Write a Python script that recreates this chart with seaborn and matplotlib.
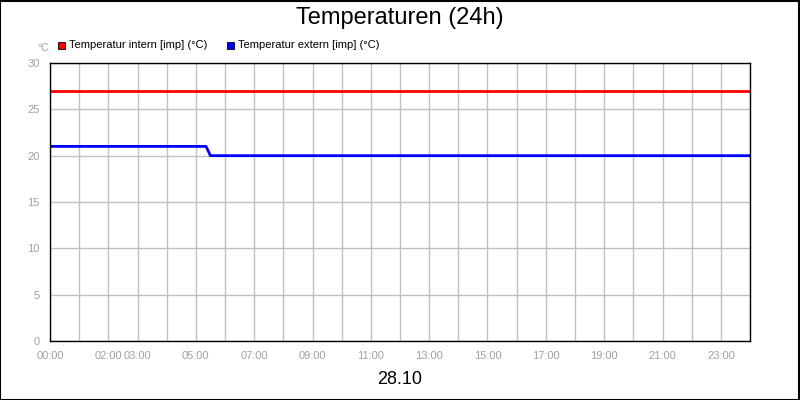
import matplotlib
matplotlib.use("Agg")
import matplotlib.pyplot as plt
import seaborn as sns
import pandas as pd
from matplotlib.patches import Rectangle
from matplotlib import font_manager

hours_intern = [0, 24]
temp_intern = [27, 27]
hours_extern = [0, 5.35, 5.5, 24]
temp_extern = [21, 21, 20, 20]
tick_hours = [0, 2, 3, 5, 7, 9, 11, 13, 15, 17, 19, 21, 23]
tick_labels = ["00:00", "02:00", "03:00", "05:00", "07:00", "09:00", "11:00",
               "13:00", "15:00", "17:00", "19:00", "21:00", "23:00"]
y_ticks = [0, 5, 10, 15, 20, 25, 30]

names = {f.name for f in font_manager.fontManager.ttflist}
narrow = "Liberation Sans Narrow" if "Liberation Sans Narrow" in names else "Liberation Sans"

df = pd.concat([
    pd.DataFrame({"h": hours_intern, "t": temp_intern, "s": "Temperatur intern [imp] (°C)"}),
    pd.DataFrame({"h": hours_extern, "t": temp_extern, "s": "Temperatur extern [imp] (°C)"}),
])

sns.set_style("white")
plt.rcParams["font.family"] = "Liberation Sans"
plt.rcParams["text.color"] = "black"
fig = plt.figure(figsize=(8, 4), dpi=100)
ax = fig.add_axes([50/800, 1-341/400, 700/800, 278/400])
sns.lineplot(data=df, x="h", y="t", hue="s", palette=["#ff0000", "#0000ff"],
             linewidth=2, ax=ax, legend=False, estimator=None, sort=False)

ax.set_xlim(0, 24)
ax.set_ylim(0, 30)
ax.set_xticks(range(25), minor=True)
ax.set_xticks(tick_hours)
ax.set_xticklabels(tick_labels, fontfamily=narrow)
ax.set_yticks(y_ticks)
ax.set_yticklabels([str(v) for v in y_ticks], fontfamily=narrow)
ax.grid(True, which="both", axis="x", color="#c0c0c0", linewidth=1)
ax.grid(True, which="major", axis="y", color="#c0c0c0", linewidth=1)
ax.set_axisbelow(True)
ax.tick_params(axis="both", which="both", colors="#a0a0a0", labelsize=8, length=4, width=1)
for sp in ax.spines.values():
    sp.set_color("black")
    sp.set_linewidth(1)
ax.set_xlabel("")
ax.set_ylabel("")

fig.text(0.5, 1-18/400, "Temperaturen (24h)", ha="center", va="center", fontsize=17, color="black")
fig.text(0.5, 1-380/400, "28.10", ha="center", va="center", fontsize=13, color="black")
fig.text(37/800, 1-48/400, "°C", ha="left", va="center", fontsize=7.5, color="#a0a0a0")

labels = ["Temperatur intern [imp] (°C)", "Temperatur extern [imp] (°C)"]
cols = ["#ff0000", "#0000ff"]
xs = [58, 227]
for x, lab, c in zip(xs, labels, cols):
    fig.patches.append(Rectangle((x/800, 1-49/400), 7/800, 7/400, transform=fig.transFigure,
                                 facecolor=c, edgecolor="black", linewidth=0.6))
    fig.text((x+11)/800, 1-45/400, lab, ha="left", va="center", fontsize=8, color="black")

fig.patches.append(Rectangle((0.0005, 0.001), 0.998, 0.997, transform=fig.transFigure,
                             fill=False, edgecolor="black", linewidth=1.5))
fig.savefig("out.png", dpi=100)
